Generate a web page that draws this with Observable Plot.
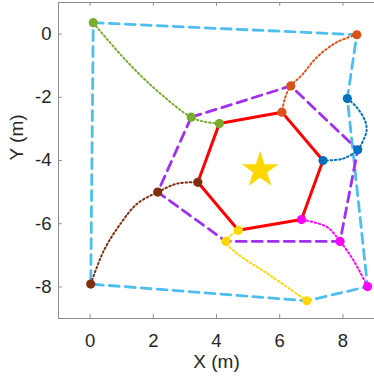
<!DOCTYPE html>
<html>
<head>
<meta charset="utf-8">
<script src="https://cdn.jsdelivr.net/npm/d3@7"></script>
<script src="https://cdn.jsdelivr.net/npm/@observablehq/plot@0.6"></script>
<style>
  html, body { margin: 0; padding: 0; background: #fff; }
  #chart svg { display: block; }
</style>
</head>
<body>
<div id="chart"></div>
<script>
// Robots and their three waypoints (start, middle, final)
const robots = ["R1", "R2", "R3", "R4", "R5", "R6"];
const robotColors = ["#77AC30", "#D95319", "#0072BD", "#FF00FF", "#FFD700", "#7E2F0E"];
const startX = [0.10, 8.44, 8.14, 8.78, 6.86, 0.02];
const startY = [0.36, -0.02, -2.04, -7.99, -8.44, -7.91];
const midX = [3.20, 6.35, 8.47, 7.91, 4.30, 2.14];
const midY = [-2.63, -1.64, -3.66, -6.56, -6.56, -5.00];
const endX = [4.09, 6.07, 7.37, 6.69, 4.69, 3.41];
const endY = [-2.83, -2.47, -4.00, -5.87, -6.21, -4.69];

// Dotted trajectory paths
const trajR1X = [0.10, 0.86, 1.50, 2.23, 3.20, 3.65, 4.09];
const trajR1Y = [0.36, -0.53, -1.21, -1.89, -2.63, -2.78, -2.83];
const trajR2X = [8.44, 7.80, 7.17, 6.70, 6.35, 6.17, 6.07];
const trajR2Y = [-0.02, -0.26, -0.74, -1.30, -1.64, -2.02, -2.47];
const trajR3X = [8.14, 8.44, 8.70, 8.75, 8.64, 8.47, 8.01, 7.37];
const trajR3Y = [-2.04, -2.32, -2.74, -3.05, -3.37, -3.66, -3.94, -4.00];
const trajR4X = [8.78, 8.33, 7.91, 7.49, 6.69];
const trajR4Y = [-7.99, -7.15, -6.56, -6.10, -5.87];
const trajR5X = [6.86, 5.60, 4.65, 4.30, 4.69];
const trajR5Y = [-8.44, -7.57, -6.94, -6.56, -6.21];
const trajR6X = [0.02, 0.44, 0.97, 1.50, 2.14, 2.76, 3.41];
const trajR6Y = [-7.91, -6.84, -5.99, -5.36, -5.00, -4.73, -4.69];

// Target (star)
const targetX = [5.38];
const targetY = [-4.31];

// Axis ticks
const xTicks = [0, 2, 4, 6, 8];
const yTicks = [0, -2, -4, -6, -8];
const xDomain = [-1, 9];
const yDomain = [-9, 1];

// ---- build tables ----
const polygon = (xs, ys) => {
  const pts = xs.map((x, i) => ({x, y: ys[i]}));
  pts.push(pts[0]);
  return pts;
};
const outer = polygon(startX, startY);
const middle = polygon(midX, midY);
const inner = polygon(endX, endY);

const trajs = [
  [trajR1X, trajR1Y], [trajR2X, trajR2Y], [trajR3X, trajR3Y],
  [trajR4X, trajR4Y], [trajR5X, trajR5Y], [trajR6X, trajR6Y]
];
const trajData = [];
trajs.forEach(([xs, ys], k) => xs.forEach((x, i) => trajData.push({robot: robots[k], x, y: ys[i]})));

const markers = [];
robots.forEach((r, k) => {
  markers.push({robot: r, x: startX[k], y: startY[k]});
  markers.push({robot: r, x: midX[k], y: midY[k]});
  markers.push({robot: r, x: endX[k], y: endY[k]});
});
const target = targetX.map((x, i) => ({x, y: targetY[i]}));

const xTickRows = xTicks.map(t => ({t}));
const yTickRows = yTicks.map(t => ({t}));

const font = "'Liberation Sans', Arial, Helvetica, sans-serif";
const axisColor = "#8c8c8c";
const textColor = "#262626";

const plot = Plot.plot({
  width: 374,
  height: 384,
  marginLeft: 58,
  marginRight: 0,
  marginTop: 2,
  marginBottom: 66,
  style: {fontFamily: font, background: "#fff", overflow: "visible"},
  x: {type: "linear", domain: xDomain, label: null, axis: null},
  y: {type: "linear", domain: yDomain, label: null, axis: null},
  color: {type: "ordinal", domain: robots, range: robotColors},
  marks: [
    // frame lines (left, bottom, top)
    Plot.ruleX([{v: xDomain[0]}], {x: "v", y1: () => yDomain[0], y2: () => yDomain[1], stroke: axisColor, strokeWidth: 1}),
    Plot.ruleY([{v: yDomain[0]}, {v: yDomain[1]}], {y: "v", x1: () => xDomain[0], x2: () => xDomain[1], stroke: axisColor, strokeWidth: 1}),
    // inward ticks
    Plot.ruleX(xTickRows, {x: "t", y1: () => yDomain[0], y2: () => yDomain[0] + 0.12, stroke: axisColor}),
    Plot.ruleX(xTickRows, {x: "t", y1: () => yDomain[1], y2: () => yDomain[1] - 0.12, stroke: axisColor}),
    Plot.ruleY(yTickRows, {y: "t", x1: () => xDomain[0], x2: () => xDomain[0] + 0.12, stroke: axisColor}),
    // tick labels
    Plot.text(xTickRows, {x: "t", y: () => yDomain[0], dy: 23, text: d => String(d.t), fontSize: 18.5, fill: textColor}),
    Plot.text(yTickRows, {x: () => xDomain[0], y: "t", dx: -7, text: d => d.t === 0 ? "0" : "-" + Math.abs(d.t), textAnchor: "end", fontSize: 18.5, fill: textColor}),
    // axis titles
    Plot.text(["X (m)"], {frameAnchor: "bottom", dy: 49, fontSize: 19, fill: textColor}),
    Plot.text(["Y (m)"], {frameAnchor: "left", dx: -42, rotate: -90, fontSize: 19, fill: textColor}),
    // formations
    Plot.line(outer, {x: "x", y: "y", stroke: "#4DBEEE", strokeWidth: 2.8, strokeDasharray: "10,6"}),
    Plot.line(middle, {x: "x", y: "y", stroke: "#A030F0", strokeWidth: 2.8, strokeDasharray: "10,6"}),
    Plot.line(inner, {x: "x", y: "y", stroke: "#FF0000", strokeWidth: 3}),
    // trajectories
    Plot.line(trajData, {x: "x", y: "y", z: "robot", stroke: "robot", strokeWidth: 2, strokeDasharray: "1.6,2.6", curve: "catmull-rom"}),
    // waypoints
    Plot.dot(markers, {x: "x", y: "y", fill: "robot", r: 4.6}),
    // target
    Plot.dot(target, {x: "x", y: "y", symbol: "star", fill: "#FFD700", r: 11.5})
  ]
});
document.getElementById("chart").appendChild(plot);
</script>
</body>
</html>
